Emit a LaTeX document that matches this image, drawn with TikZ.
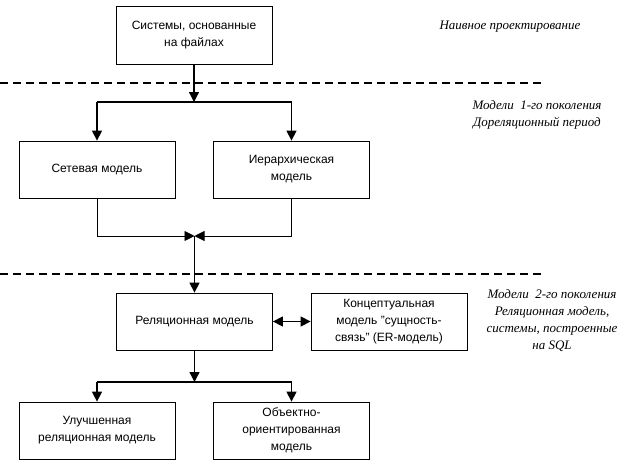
\documentclass[tikz,border=0pt]{standalone}
\usepackage{fontspec}
\setmainfont{Liberation Sans}
\newfontfamily\serifit{Liberation Serif}
\usetikzlibrary{arrows.meta}
\begin{document}
\begin{tikzpicture}[x=1pt,y=-1pt,
 box/.style={draw, line width=0.8pt, minimum width=156pt, minimum height=57pt, align=center,
   font=\fontsize{12}{17}\selectfont, inner sep=2pt},
 conn/.style={line width=1.3pt, -{Triangle[length=10pt,width=10pt]}},
 thinconn/.style={line width=0.9pt, -{Triangle[length=10pt,width=10pt]}},
 plain/.style={line width=1.2pt},
 sep/.style={line width=1.6pt, dash pattern=on 8pt off 5pt},
 note/.style={align=center, font=\serifit\itshape\fontsize{13}{17}\selectfont}]
\useasboundingbox (0,0) rectangle (624,464);

% separators
\coordinate (s1a) at (0,83); \coordinate (s1b) at (545,83);
\coordinate (s2a) at (0,274); \coordinate (s2b) at (545,274);
\draw[sep] (s1a) -- (s1b);
\draw[sep] (s2a) -- (s2b);

% boxes
\node[box, minimum height=58pt] (files) at (194,35) {Системы, основанные\\на файлах};
\node[box] (net) at (97,169.5) {Сетевая модель};
\node[box] (hier) at (291.5,169.5) {Иерархическая\\модель};
\node[box] (rel) at (194.5,321.5) {Реляционная модель};
\node[box] (er) at (389,321.5) {Концептуальная\\модель \char34сущность-\\связь\char34\ (ER-модель)};
\node[box] (ext) at (97,430.5) {Улучшенная\\реляционная модель};
\node[box] (oo) at (291.5,430.5) {Объектно-\\ориентированная\\модель};

% notes
\node[note] (n0) at (510,27) {Наивное проектирование};
\node[note] (n1) at (537,115) {Модели\ \ 1-го поколения\\Дореляционный период};
\node[note] (n2) at (552,321) {Модели\ \ 2-го поколения\\Реляционная модель,\\системы, построенные\\на SQL};

% connectors
\coordinate (j1) at (194,102);
\coordinate (j1l) at (97,102);
\coordinate (j1r) at (291.5,102);
\draw[conn] (files.south) -- (j1);
\draw[plain] (j1l) -- (j1r);
\draw[conn] (j1l) -- (net.north);
\draw[conn] (j1r) -- (hier.north);

\coordinate (m) at (194.5,236);
\draw[thinconn] (net.south) |- (m);
\draw[thinconn] (hier.south) |- (m);
\draw[conn] (m) -- (rel.north);

\draw[line width=1.3pt, {Triangle[length=10pt,width=10pt]}-{Triangle[length=10pt,width=10pt]}] (rel.east) -- (er.west);

\coordinate (j2) at (194.5,382);
\coordinate (j2l) at (97,382);
\coordinate (j2r) at (291.5,382);
\draw[conn] (rel.south) -- (j2);
\draw[plain] (j2l) -- (j2r);
\draw[conn] (j2l) -- (ext.north);
\draw[conn] (j2r) -- (oo.north);
\end{tikzpicture}
\end{document}
